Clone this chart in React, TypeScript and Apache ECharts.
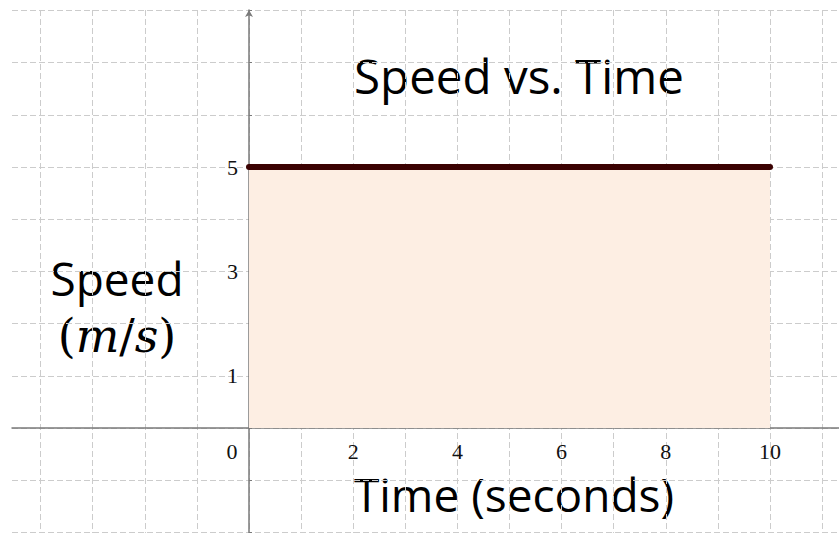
import React, { useEffect, useRef } from "react";
import * as echarts from "echarts";

// Data
const timeValues = [0, 10];
const speedValues = [5, 5];
const xGridTicks = [-4, -3, -2, -1, 0, 1, 2, 3, 4, 5, 6, 7, 8, 9, 10, 11];
const yGridTicks = [-2, -1, 0, 1, 2, 3, 4, 5, 6, 7, 8];
const xTickLabels = [2, 4, 6, 8, 10];
const yTickLabels = [1, 3, 5];
const chartTitle = "Speed vs. Time";
const xAxisTitle = "Time (seconds)";
const yAxisTitle = "Speed";

const X_MIN = -4.549;
const X_MAX = 11.324;
const Y_MIN = -2.011;
const Y_MAX = 8.008;

export default function App() {
  const ref = useRef<HTMLDivElement>(null);
  useEffect(() => {
    if (!ref.current) return;
    const chart = echarts.init(ref.current, null, { renderer: "svg" });
    const gridColor = "#cccccc";
    const axisColor = "#7a7a7a";
    const sans = "Open Sans";
    const serif = "Liberation Serif";
    const W = 839;
    const H = 533;
    const left = 12;
    const top = 10;
    const plotW = W - left;
    const plotH = H - top;
    const zeroX = ((0 - X_MIN) / (X_MAX - X_MIN)) * plotW;
    const zeroYFromBottom = ((0 - Y_MIN) / (Y_MAX - Y_MIN)) * plotH;
    chart.setOption({
      animation: false,
      backgroundColor: "#ffffff",
      grid: {
        left,
        right: 0,
        top,
        bottom: 0,
        containLabel: false,
        outerBoundsMode: "none",
      },
      xAxis: {
        type: "value",
        min: X_MIN,
        max: X_MAX,
        position: "bottom",
        offset: -zeroYFromBottom,
        axisLine: {
          onZero: false,
          lineStyle: { color: axisColor, width: 1.5 },
        },
        axisTick: { show: false, customValues: xGridTicks },
        splitLine: {
          show: true,
          lineStyle: { color: gridColor, type: [6, 3], width: 1 },
        },
        axisLabel: {
          customValues: xTickLabels,
          margin: 14,
          fontFamily: serif,
          fontSize: 22,
          lineHeight: 18,
          color: "#111",
        },
      },
      yAxis: {
        type: "value",
        min: Y_MIN,
        max: Y_MAX,
        position: "left",
        offset: -zeroX,
        axisLine: {
          onZero: false,
          symbol: ["none", "arrow"],
          symbolSize: [6, 7],
          lineStyle: { color: axisColor, width: 1.5 },
        },
        axisTick: {
          show: true,
          inside: true,
          length: 3,
          customValues: yGridTicks,
          lineStyle: { color: axisColor },
        },
        splitLine: {
          show: true,
          lineStyle: { color: gridColor, type: [6, 3], width: 1 },
        },
        axisLabel: {
          customValues: yTickLabels,
          margin: 11,
          fontFamily: serif,
          fontSize: 22,
          color: "#111",
        },
      },
      series: [
        {
          type: "line",
          data: timeValues.map((t, i) => [t, speedValues[i]]),
          symbol: "none",
          lineStyle: { color: "#3b0202", width: 6, cap: "round" },
          areaStyle: { color: "#fdeee3", opacity: 1 },
          z: 3,
        },
      ],
      graphic: [
        {
          type: "text",
          x: 519,
          y: 75,
          style: {
            text: chartTitle,
            font: `47.5px "${sans}"`,
            fill: "#000",
            align: "center",
            verticalAlign: "middle",
          },
        },
        {
          type: "text",
          x: 514,
          y: 494,
          style: {
            text: xAxisTitle,
            font: `46px "${sans}"`,
            lineHeight: 34,
            fill: "#000",
            align: "center",
            verticalAlign: "middle",
          },
        },
        {
          type: "text",
          x: 117,
          y: 278,
          style: {
            text: yAxisTitle,
            font: `46px "${sans}"`,
            fill: "#000",
            align: "center",
            verticalAlign: "middle",
          },
        },
        {
          type: "text",
          x: 117,
          y: 336,
          style: {
            text: "{p|(}{i|m}{p|/}{i|s}{p|)}",
            align: "center",
            verticalAlign: "middle",
            rich: {
              p: { fontFamily: "DejaVu Serif", fontSize: 46, fill: "#000", color: "#000" },
              i: {
                fontFamily: "DejaVu Serif",
                fontStyle: "italic",
                fontSize: 46,
                fill: "#000",
                color: "#000",
              },
            },
          },
        },
        {
          type: "text",
          x: 232,
          y: 451,
          style: {
            text: "0",
            font: `22px "${serif}"`,
            fill: "#111",
            align: "center",
            verticalAlign: "middle",
          },
        },
      ],
    });
    return () => chart.dispose();
  }, []);
  return (
    <div
      ref={ref}
      style={{ position: "absolute", left: 0, top: 0, width: 839, height: 533 }}
    />
  );
}
